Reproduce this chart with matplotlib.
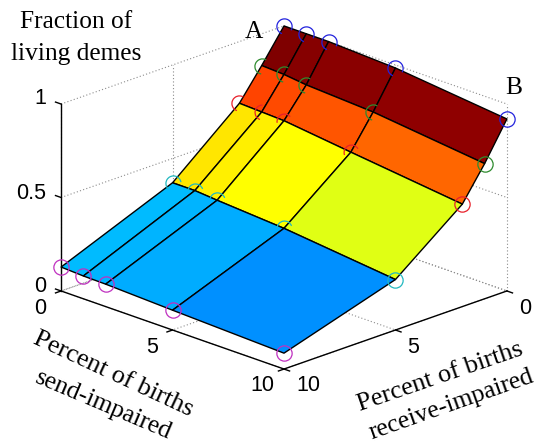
import numpy as np
import matplotlib
matplotlib.use('Agg')
import matplotlib.pyplot as plt
from matplotlib.path import Path
from mpl_toolkits.mplot3d.art3d import Poly3DCollection

# percent of births impaired, both axes use the same sampling
send_pct = [0, 1, 2, 5, 10]
recv_pct = [0, 1, 2, 5, 10]

# fraction of living demes, one row per recv_pct, one column per send_pct
frac_recv0 = [1.00, 1.00, 1.00, 0.984, 0.92]
frac_recv1 = [0.83, 0.824, 0.81, 0.79, 0.723]
frac_recv2 = [0.67, 0.665, 0.66, 0.617, 0.548]
frac_recv5 = [0.37, 0.37, 0.36, 0.335, 0.27]
frac_recv10 = [0.128, 0.122, 0.12, 0.106, 0.085]

z_ticks = [0, 0.5, 1]
floor_ticks = [0, 5, 10]

# flat colours of the cells, same ordering as above
cells_recv0 = ['#7f0000', '#860000', '#8a0000', '#8f0000']
cells_recv1 = ['#ff4400', '#ff4a00', '#ff5500', '#ff6600']
cells_recv2 = ['#ffe600', '#fff000', '#ffff00', '#e0ff14']
cells_recv5 = ['#00bbff', '#00b4ff', '#00acff', '#0090ff']
cell_colors = [cells_recv0, cells_recv1, cells_recv2, cells_recv5]

row_colors = ['#2222dd', '#2e8b2e', '#e8202a', '#22b8c0', '#c030c0']

# which part of each circle shows above the surface (degrees)
full = (0, 360)
visible_arcs = [
    [(-30, 250), (-30, 250), (-30, 250), (-30, 250), full],
    [(60, 260), (60, 260), (60, 260), (60, 260), full],
    [(60, 250), (90, 250), (40, 190), (30, 200), full],
    [(10, 230), (20, 170), (20, 160), (20, 180), full],
    [full, full, full, full, full],
]

frac = np.array([frac_recv0, frac_recv1, frac_recv2, frac_recv5, frac_recv10])

fig = plt.figure(figsize=(5.37, 4.44), dpi=100)
ax = fig.add_axes([56 / 537, 18.5 / 444, 444 / 537, 1], projection='3d', proj_type='ortho')
ax.set_box_aspect((317, 317, 200.7), zoom=1.068)
ax.view_init(elev=20.5, azim=45)
ax.set_xlim(0, 10)
ax.set_ylim(0, 10)
ax.set_zlim(0, 1)
ax.set_axis_off()
ax.patch.set_visible(False)
ax.computed_zorder = False


def grid_line(xs, ys, zs):
    ax.plot(xs, ys, zs, color='#8c8c8c', lw=0.8, ls=(0, (1, 2)), zorder=1, clip_on=False)


def axis_line(xs, ys, zs):
    ax.plot(xs, ys, zs, color='k', lw=1.0, zorder=1.5, clip_on=False)


# dotted grid on the back walls and the floor
for z in z_ticks:
    grid_line([10, 0], [0, 0], [z, z])
    grid_line([0, 0], [0, 10], [z, z])
for t in floor_ticks:
    grid_line([t, t], [0, 10], [0, 0])
    grid_line([0, 10], [t, t], [0, 0])
    grid_line([t, t], [0, 0], [0, 1])
    grid_line([0, 0], [t, t], [0, 1])

# solid axes and their ticks
axis_line([10, 10], [0, 0], [0, 1])
axis_line([10, 10], [0, 10], [0, 0])
axis_line([0, 10], [10, 10], [0, 0])
for z in z_ticks:
    axis_line([10, 10], [0, -0.25], [z, z])
for t in floor_ticks:
    axis_line([10, 10.25], [t, t], [0, 0])
    axis_line([t, t], [10, 10.25], [0, 0])

# surface
polys = []
colors = []
for i in range(len(recv_pct) - 1):
    for j in range(len(send_pct) - 1):
        polys.append([
            (recv_pct[i], send_pct[j], frac[i, j]),
            (recv_pct[i], send_pct[j + 1], frac[i, j + 1]),
            (recv_pct[i + 1], send_pct[j + 1], frac[i + 1, j + 1]),
            (recv_pct[i + 1], send_pct[j], frac[i + 1, j]),
        ])
        colors.append(cell_colors[i][j])
surf = Poly3DCollection(polys, facecolors=colors, edgecolors='k', linewidths=1.0, zorder=2)
ax.add_collection3d(surf)
surf.set_clip_on(False)

# circles at the grid points
for i, r in enumerate(recv_pct):
    for j, s in enumerate(send_pct):
        arc = visible_arcs[i][j]
        if arc == full:
            marker = 'o'
        else:
            marker = Path.arc(arc[0], arc[1])
        ax.plot([r], [s], [frac[i, j]], ls='none', marker=marker, ms=11, mfc='none',
                mec=row_colors[i], mew=0.9, zorder=3, clip_on=False)

serif = 'Liberation Serif'
sans = 'Liberation Sans'


def put(x, y, text, family=serif, size=18.3, rot=0):
    fig.text(x / 537, 1 - y / 444, text, family=family, fontsize=size, rotation=rot,
             ha='center', va='center', rotation_mode='anchor')


put(76, 22, 'Fraction of')
put(76, 54, 'living demes')
put(254, 32, 'A')
put(514, 88, 'B')
put(113, 374, 'Percent of births', size=18.9, rot=-25)
put(103, 405, 'send-impaired', size=18.4, rot=-23)
put(440, 377, 'Percent of births', size=18.9, rot=19)
put(451, 405, 'receive-impaired', size=18.4, rot=19.5)

put(40, 98, '1', sans, 15.5)
put(31, 193, '0.5', sans, 15.5)
put(40, 287, '0', sans, 15.5)
put(40, 309, '0', sans, 15.5)
put(152, 347, '5', sans, 15.5)
put(262, 385, '10', sans, 15.5)
put(308, 385, '10', sans, 15.5)
put(413, 347, '5', sans, 15.5)
put(525, 309, '0', sans, 15.5)

fig.savefig('out.png', dpi=100)
